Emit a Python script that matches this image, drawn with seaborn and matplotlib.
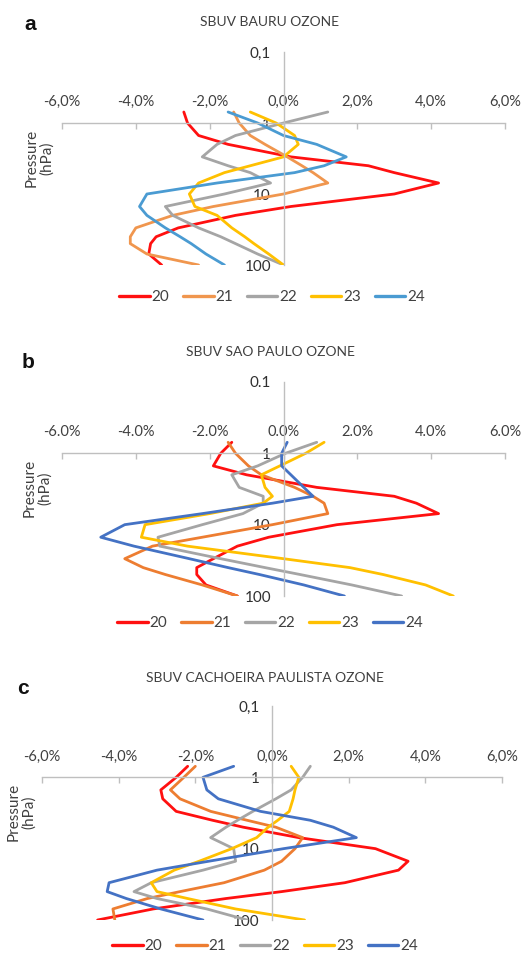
import numpy as np
import pandas as pd
import matplotlib
matplotlib.use('Agg')
import matplotlib.pyplot as plt
from matplotlib.ticker import FixedLocator, FuncFormatter, LogLocator, NullFormatter
import seaborn as sns

# niveaux de pression SBUV (hPa)
pressure = [0.7, 1, 1.5, 2, 3, 4, 5, 7, 10, 15, 20, 30, 40, 50, 70, 100]
years = ['20', '21', '22', '23', '24']

bauru = {
    '20': [-2.7, -2.6, -2.3, -1.5, 0.2, 2.3, 3.0, 4.2, 3.0, 0.2, -1.3, -2.85, -3.45, -3.6, -3.65, -3.3],
    '21': [-1.35, -1.2, -0.9, -0.5, 0.1, 0.5, 0.8, 1.2, 0.0, -1.9, -3.0, -4.0, -4.15, -4.15, -3.7, -2.3],
    '22': [1.2, 0.0, -1.3, -1.8, -2.2, -1.5, -0.9, -0.35, -1.6, -3.2, -3.0, -2.3, -1.7, -1.3, -0.7, 0.0],
    '23': [-0.9, -0.2, 0.3, 0.4, 0.0, -0.9, -1.6, -2.3, -2.55, -2.4, -1.8, -1.4, -1.05, -0.8, -0.4, 0.0],
    '24': [-1.5, -0.7, 0.0, 0.9, 1.7, 1.1, 0.3, -1.8, -3.7, -3.9, -3.7, -3.2, -2.8, -2.5, -2.1, -1.6],
}
sao_paulo = {
    '20': [-1.4, -1.7, -1.9, -1.0, 0.9, 3.0, 3.6, 4.2, 1.45, -0.4, -1.25, -1.9, -2.35, -2.35, -2.1, -1.25],
    '21': [-1.5, -1.3, -0.95, -0.6, 0.3, 0.8, 1.1, 1.2, -0.3, -2.2, -3.55, -4.3, -3.8, -3.2, -2.2, -1.25],
    '22': [0.9, 0.05, -0.7, -1.4, -1.2, -0.55, -0.55, -1.1, -2.2, -3.4, -3.35, -1.7, -0.5, 0.45, 1.85, 3.2],
    '23': [1.1, 0.6, -0.1, -0.6, -0.5, -0.3, -0.55, -2.0, -3.75, -3.85, -2.6, 0.0, 1.8, 2.7, 3.85, 4.6],
    '24': [0.1, -0.05, -0.05, 0.2, 0.55, 0.8, -0.3, -2.2, -4.3, -4.95, -4.05, -2.55, -1.5, -0.65, 0.55, 1.65],
}
cachoeira = {
    '20': [-2.2, -2.5, -2.9, -2.85, -2.5, -1.55, -0.75, 0.7, 2.7, 3.55, 3.3, 1.9, 0.25, -1.2, -3.1, -4.55],
    '21': [-2.0, -2.3, -2.65, -2.4, -1.6, -0.65, 0.1, 0.8, 0.6, 0.25, -0.2, -1.25, -2.4, -3.25, -4.15, -4.1],
    '22': [1.0, 0.8, 0.5, 0.1, -0.5, -0.9, -1.2, -1.6, -1.0, -0.95, -1.8, -3.15, -3.6, -3.0, -1.7, -0.65],
    '23': [0.5, 0.7, 0.6, 0.55, 0.45, 0.15, -0.1, -0.4, -1.05, -1.9, -2.55, -3.15, -3.0, -2.2, -0.95, 0.85],
    '24': [-1.0, -1.8, -1.7, -1.4, -0.3, 1.0, 1.6, 2.2, 0.3, -1.65, -3.0, -4.25, -4.3, -3.8, -2.9, -1.8],
}

titles = ['SBUV BAURU OZONE', 'SBUV SAO PAULO OZONE', 'SBUV CACHOEIRA PAULISTA OZONE']
letters = ['a', 'b', 'c']
separators = [',', '.', ',']

colors_a = ['#FF1010', '#F0964E', '#A5A5A5', '#FFC000', '#4A9BD2']
colors_bc = ['#FF1010', '#ED7D31', '#A5A5A5', '#FFC000', '#4472C4']

sns.set_style('white')
plt.rcParams['font.family'] = ['Lato', 'DejaVu Sans']

W, H = 522, 957
fig = plt.figure(figsize=(W / 100, H / 100), dpi=100)

# positions en pixels : (gauche, droite, haut(0.1), bas(100), titre, lettre, légende)
layout = [
    dict(l=62, r=505, t=52, b=265, title=(270, 22), letter=(24, 25), leg=(272, 297), ylab=(39, 158)),
    dict(l=62, r=505, t=382, b=596, title=(270, 352), letter=(22, 363), leg=(270, 623), ylab=(37, 488)),
    dict(l=42, r=502, t=706, b=920, title=(265, 678), letter=(17, 688), leg=(265, 946), ylab=(21, 812)),
]

text_col = '#404040'


def make_df(panel):
    rows = []
    for y in years:
        for p, v in zip(pressure, panel[y]):
            rows.append({'year': y, 'pressure': p, 'diff': v})
    return pd.DataFrame(rows)


def draw_panel(pos, data, colors, sep, title, letter):
    ax = fig.add_axes([pos['l'] / W, 1 - pos['b'] / H, (pos['r'] - pos['l']) / W, (pos['b'] - pos['t']) / H])
    ax.set_yscale('log')
    df = make_df(data)
    sns.lineplot(data=df, x='diff', y='pressure', hue='year', hue_order=years,
                 palette=colors, orient='y', estimator=None, sort=False,
                 lw=2.0, ax=ax)
    ax.set_xlim(-6, 6)
    ax.set_ylim(100, 0.1)
    ax.set_xlabel('')
    ax.set_ylabel('')
    ax.set_facecolor('none')

    # axes "à la Excel" : axe x croise à 1 hPa, axe y à 0 %
    ax.spines['right'].set_visible(False)
    ax.spines['bottom'].set_visible(False)
    ax.spines['top'].set_position(('data', 1))
    ax.spines['left'].set_position(('data', 0))
    for s in ['top', 'left']:
        ax.spines[s].set_color('#BFBFBF')
        ax.spines[s].set_linewidth(1.0)

    ax.xaxis.set_ticks_position('top')
    ax.xaxis.set_major_locator(FixedLocator([-6, -4, -2, 0, 2, 4, 6]))
    ax.xaxis.set_major_formatter(FuncFormatter(lambda v, _: f'{v:.1f}%'.replace('.', sep)))
    ax.tick_params(axis='x', direction='in', length=4, width=1, color='#BFBFBF',
                   pad=10, labelsize=10.5, labelcolor=text_col)

    ax.yaxis.set_major_locator(FixedLocator([0.1, 1, 10, 100]))
    ax.yaxis.set_major_formatter(FuncFormatter(lambda v, _: (f'{v:g}').replace('.', sep)))
    ax.yaxis.set_minor_locator(LogLocator(base=10, subs=np.arange(2, 10)))
    ax.yaxis.set_minor_formatter(NullFormatter())
    ax.tick_params(axis='y', which='major', direction='out', length=4, color='#BFBFBF',
                   pad=5, labelsize=11, labelcolor='#303030')
    ax.tick_params(axis='y', which='minor', direction='out', length=2.5, color='#BFBFBF')

    handles, labels = ax.get_legend_handles_labels()
    ax.get_legend().remove()
    leg = fig.legend(handles, labels, loc='center',
                     bbox_to_anchor=(pos['leg'][0] / W, 1 - pos['leg'][1] / H),
                     ncol=5, frameon=False, handlelength=2.0, handletextpad=0.12,
                     columnspacing=0.9, fontsize=11, labelcolor=text_col)
    for h in leg.legend_handles:
        h.set_linewidth(2.4)

    fig.text(pos['title'][0] / W, 1 - pos['title'][1] / H, title, ha='center', va='center',
             fontsize=10, color=text_col)
    fig.text(pos['letter'][0] / W, 1 - pos['letter'][1] / H, letter, ha='left', va='center',
             fontsize=15, fontweight='bold', color='#111111', family=['Liberation Sans', 'DejaVu Sans'])
    fig.text(pos['ylab'][0] / W, 1 - pos['ylab'][1] / H, 'Pressure\n(hPa)', ha='center', va='center',
             rotation=90, fontsize=11, color=text_col, linespacing=1.1)


panels = [bauru, sao_paulo, cachoeira]
palettes = [colors_a, colors_bc, colors_bc]
for pos, data, cols, sep, title, letter in zip(layout, panels, palettes, separators, titles, letters):
    draw_panel(pos, data, cols, sep, title, letter)

fig.savefig('out.png', dpi=100, facecolor='white')
